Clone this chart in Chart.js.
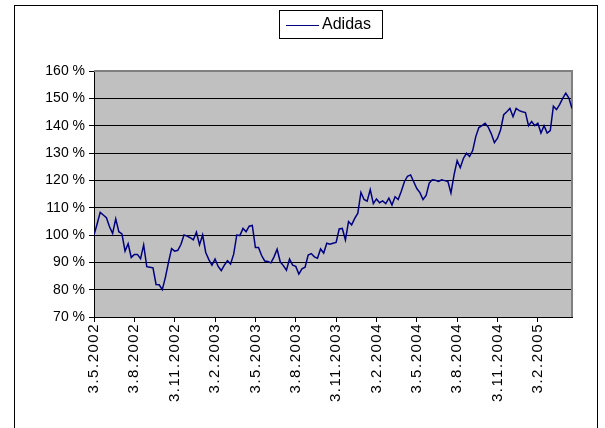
<!DOCTYPE html>
<html>
<head>
<meta charset="utf-8">
<script src="https://cdn.jsdelivr.net/npm/chart.js@4.4.1/dist/chart.umd.min.js"></script>
<style>
  body { margin: 0; background: #fff; }
  #wrap { position: relative; width: 605px; height: 428px; }
</style>
</head>
<body>
<div id="wrap"><canvas id="adidasChart" width="605" height="428"></canvas></div>
<script>
// weekly closes, indexed to 100 % at 3.5.2002
const tickLabels = ['3.5.2002', '3.8.2002', '3.11.2002', '3.2.2003', '3.5.2003', '3.8.2003',
    '3.11.2003', '3.2.2004', '3.5.2004', '3.8.2004', '3.11.2004', '3.2.2005'];
const weeksPerTick = 13;
const yMin = 70, yMax = 160, yStep = 10;
const seriesName = 'Adidas';
const adidas = [
    100, 104, 108.3, 107.3, 106.3, 103, 100.6, 105.9, 101.2, 100.4,
    94.1, 96.8, 91.8, 92.9, 92.9, 91.3, 96.4, 88.4, 88.2, 88.0,
    81.9, 81.8, 80.0, 84.5, 90, 95.0, 94.1, 94.4, 96.5, 100,
    99.6, 99.0, 98.2, 101, 96.4, 100, 93.6, 91, 89.0, 91.2,
    88.5, 87.0, 89, 90.6, 89.4, 93, 100, 99.8, 102.4, 101.2,
    103.2, 103.5, 95.4, 95.4, 92.5, 90.5, 90.3, 89.8, 92, 94.8,
    90.2, 88.8, 87.1, 91.2, 89, 88.5, 85.7, 87.6, 88.2, 92.7,
    93.2, 92, 91.5, 94.9, 93.4, 97, 96.6, 97, 97.3, 102.2,
    102.4, 98.2, 104.9, 103.7, 106.1, 108, 115.6, 113, 112.4, 116.6,
    111.5, 113.2, 111.8, 112.5, 111.5, 113.5, 111, 114, 113, 116,
    119.5, 121.5, 122, 119.5, 117, 115.5, 113, 114.5, 119, 120.2,
    120, 119.6, 120.2, 119.9, 119.6, 115.4, 122, 127.2, 124.6, 128,
    129.9, 128.7, 130.9, 136, 139.3, 140, 140.9, 139.5, 137, 133.8,
    135.4, 138.5, 144, 145.1, 146.3, 143.3, 146.3, 145.5, 145.1, 144.8,
    140, 141.5, 140, 140.9, 137.3, 140, 137.3, 138.2, 147.1, 145.9,
    147.7, 150, 151.9, 150.1, 146.3
];
const weekIndex = adidas.map((v, i) => i);

const fontFamily = 'Arial, "Liberation Sans", sans-serif';

// grey plot area, frame, outer border and the boxed legend, Excel style
const excelFrame = {
    id: 'excelFrame',
    beforeDraw(chart) {
        const { ctx, chartArea: a } = chart;
        ctx.save();
        ctx.fillStyle = '#c0c0c0';
        ctx.fillRect(a.left, a.top, a.right - a.left, a.bottom - a.top);
        ctx.restore();

        // the date labels are spaced out a bit in the original
        const x = chart.scales.x;
        if (!x._spaced) {
            const orig = x.drawLabels;
            x.drawLabels = function (area) {
                this.ctx.save();
                this.ctx.letterSpacing = '1.5px';
                orig.call(this, area);
                this.ctx.restore();
            };
            x._spaced = true;
        }
    },
    beforeDatasetsDraw(chart) {
        const { ctx, chartArea: a } = chart;
        ctx.save();
        ctx.strokeStyle = '#808080';
        ctx.lineWidth = 2;
        ctx.beginPath();
        ctx.moveTo(a.left, a.top);
        ctx.lineTo(a.right, a.top);
        ctx.lineTo(a.right, a.bottom);
        ctx.stroke();
        ctx.restore();
    },
    afterDraw(chart) {
        const ctx = chart.ctx;
        ctx.save();
        ctx.strokeStyle = '#000';
        ctx.lineWidth = 1;
        ctx.strokeRect(14.5, 5.5, 583, 440);
        // legend
        ctx.strokeRect(279.5, 10.5, 103, 28);
        ctx.strokeStyle = chart.data.datasets[0].borderColor;
        ctx.lineWidth = 1;
        ctx.beginPath();
        ctx.moveTo(286, 25.5);
        ctx.lineTo(319, 25.5);
        ctx.stroke();
        ctx.fillStyle = '#000';
        ctx.font = '16px ' + fontFamily;
        ctx.textBaseline = 'middle';
        ctx.fillText(chart.data.datasets[0].label, 322, 25);
        ctx.restore();
    }
};

new Chart(document.getElementById('adidasChart'), {
    type: 'line',
    data: {
        labels: weekIndex,
        datasets: [{
            label: seriesName,
            data: adidas,
            borderColor: '#000080',
            borderWidth: 1.5,
            pointRadius: 0,
            tension: 0,
            fill: false
        }]
    },
    options: {
        responsive: false,
        animation: false,
        events: [],
        layout: { padding: { top: 71, right: 33, left: 0, bottom: 0 } },
        plugins: {
            legend: { display: false },
            tooltip: { enabled: false }
        },
        scales: {
            x: {
                type: 'linear',
                min: 0,
                max: adidas.length - 1,
                afterFit(scale) { scale.height = 111; },
                afterBuildTicks(scale) {
                    scale.ticks = scale.ticks.filter(t => t.value % weeksPerTick === 0);
                },
                ticks: {
                    stepSize: weeksPerTick,
                    autoSkip: false,
                    minRotation: 90,
                    maxRotation: 90,
                    padding: 1,
                    color: '#000',
                    font: { family: fontFamily, size: 15 },
                    callback: (v) => tickLabels[v / weeksPerTick] || ''
                },
                grid: {
                    drawOnChartArea: false,
                    color: '#000',
                    tickLength: 5
                },
                border: { color: '#000', width: 1 }
            },
            y: {
                min: yMin,
                max: yMax,
                afterFit(scale) { scale.width = 94; },
                ticks: {
                    stepSize: yStep,
                    padding: 4,
                    color: '#000',
                    font: { family: fontFamily, size: 14 },
                    callback: (v) => v + ' %'
                },
                grid: {
                    color: (c) => c.tick && c.tick.value === yMax ? 'rgba(0,0,0,0)' : '#000',
                    tickColor: '#000',
                    tickLength: 5
                },
                border: { color: '#000', width: 1 }
            }
        }
    },
    plugins: [excelFrame]
});
</script>
</body>
</html>
